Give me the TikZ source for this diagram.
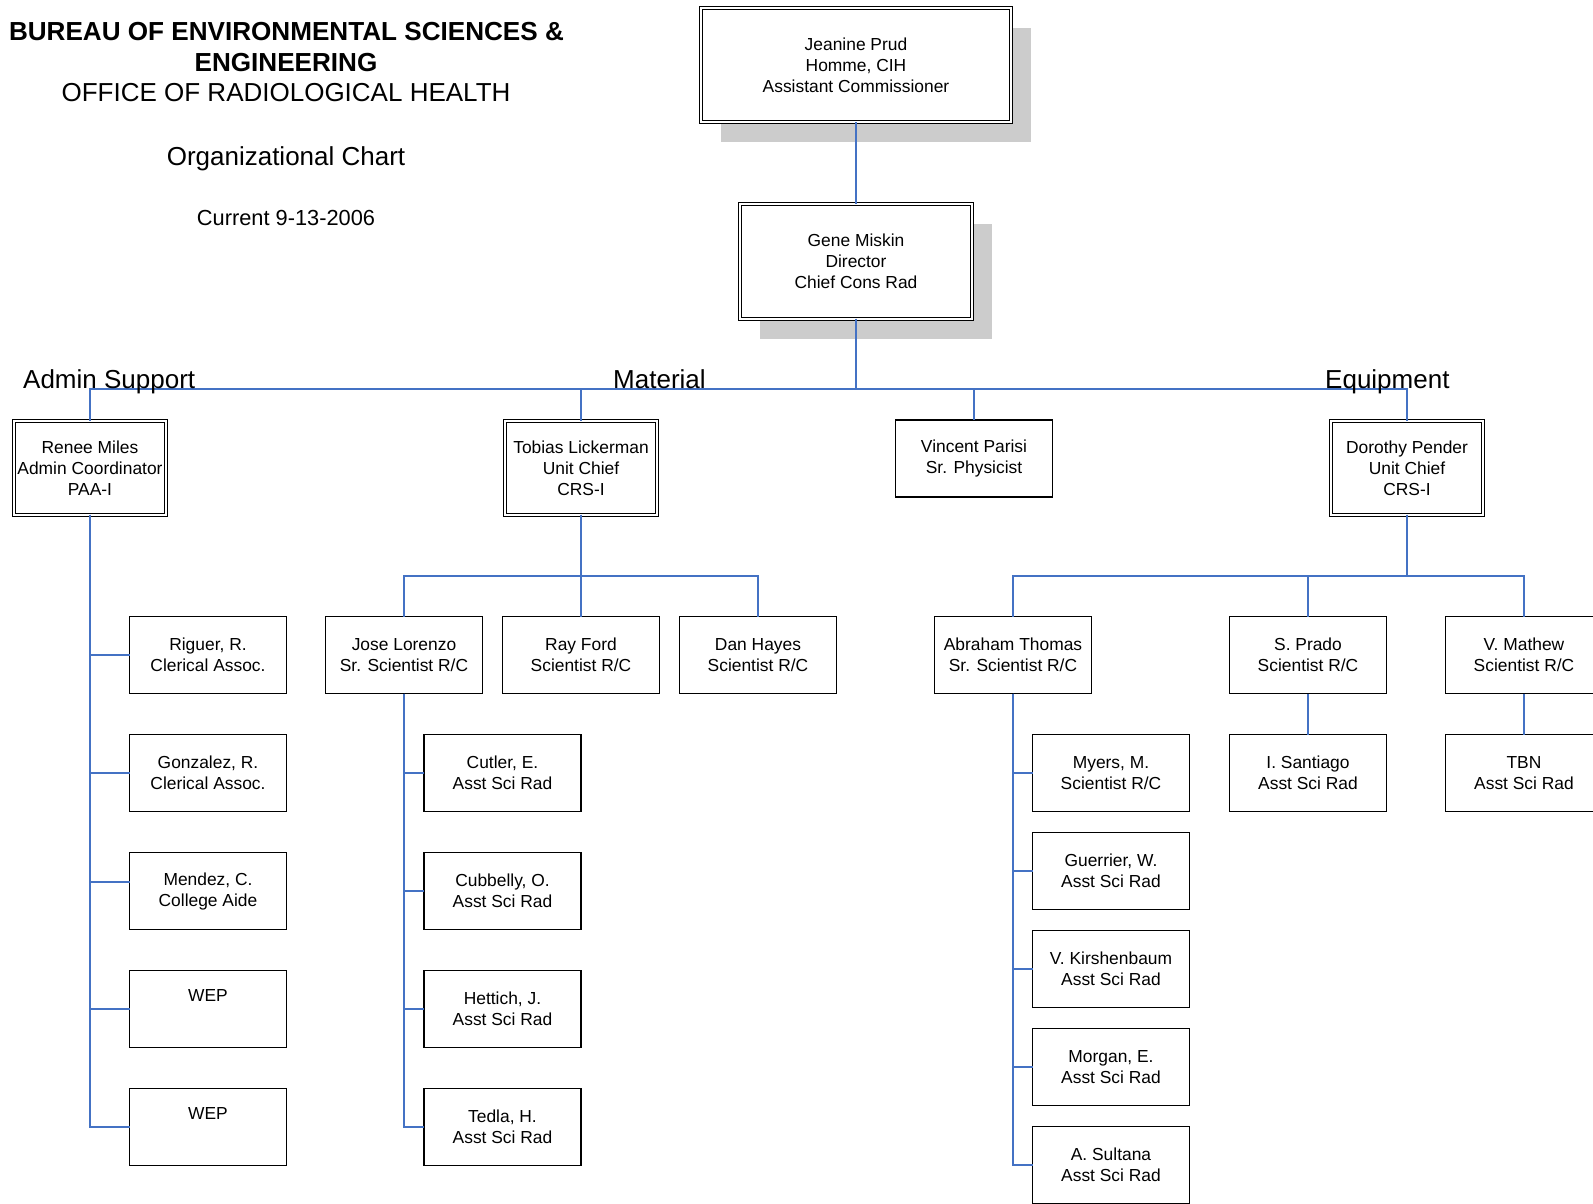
\documentclass[tikz,border=0pt]{standalone}
\usepackage{fontspec}
\setmainfont{Liberation Sans}
\usepackage{xcolor}
\definecolor{linkblue}{RGB}{68,114,196}
\definecolor{shadowgray}{RGB}{204,204,204}
\usetikzlibrary{positioning,shadows}
\newcommand\boxfont{\fontsize{17.4}{21}\selectfont}
\tikzset{
  box/.style={draw,fill=white,line width=1.2pt,minimum width=157pt,%
    minimum height=77pt,inner sep=0pt,outer sep=0pt,align=center,font=\boxfont},
  chief/.style={box,double,double distance=2pt,line width=1.1pt,%
    minimum width=152.6pt,minimum height=93.6pt},
  shade/.style={drop shadow={shadow xshift=20pt,shadow yshift=-20pt,%
    fill=shadowgray,opacity=1}},
  link/.style={draw=linkblue,line width=1.8pt},
  heading/.style={anchor=base,inner sep=0pt,font=\fontsize{26}{31}\selectfont},
  section/.style={anchor=base west,inner sep=0pt,font=\fontsize{26}{31}\selectfont},
}

\begin{document}
\begin{tikzpicture}[x=1pt,y=-1pt,node distance=41pt]
\useasboundingbox (0,0) rectangle (1593,1203);

% title block
\node[heading,font=\fontsize{26.1}{31}\selectfont\bfseries] (bureau) at (286.5,40)
  {BUREAU OF ENVIRONMENTAL SCIENCES \&};
\node[heading,font=\fontsize{26.1}{31}\selectfont\bfseries] (engin) at (286,71.5)
  {ENGINEERING};
\node[heading] (office) at (286,101.5) {OFFICE OF RADIOLOGICAL HEALTH};
\node[heading] (chart) at (286,165.5) {Organizational Chart};
\node[heading,font=\fontsize{21.8}{26}\selectfont] (date) at (286,225) {Current 9-13-2006};

% top
\node[chief,shade,minimum width=310.6pt,minimum height=113.6pt] (prud) at (856,65)
  {Jeanine Prud\\Homme, CIH\\Assistant Commissioner};
\node[chief,shade,minimum width=231.6pt,minimum height=114.6pt] (miskin) at (856,261.5)
  {Gene Miskin\\Director\\Chief Cons Rad};

% units
\node[chief] (miles) at (90,468) {Renee Miles\\Admin Coordinator\\PAA-I};
\node[chief] (lickerman) at (581,468) {Tobias Lickerman\\Unit Chief\\CRS-I};
\node[box] (parisi) at (974,458.5) {Vincent Parisi\\Sr. Physicist};
\node[chief] (pender) at (1407,468) {Dorothy Pender\\Unit Chief\\CRS-I};

% admin support
\node[box] (riguer) at (208,655) {Riguer, R.\\Clerical Assoc.};
\node[box,below=of riguer] (gonzalez) {Gonzalez, R.\\Clerical Assoc.};
\node[box,below=of gonzalez] (mendez) {Mendez, C.\\College Aide};
\node[box,below=of mendez] (wepa) {WEP\\\strut};
\node[box,below=of wepa] (wepb) {WEP\\\strut};

% material
\node[box] (lorenzo) at (404,655) {Jose Lorenzo\\Sr. Scientist R/C};
\node[box] (ford) at (581,655) {Ray Ford\\Scientist R/C};
\node[box] (hayes) at (758,655) {Dan Hayes\\Scientist R/C};
\node[box,below=of lorenzo,xshift=98.5pt] (cutler) {Cutler, E.\\Asst Sci Rad};
\node[box,below=of cutler] (cubbelly) {Cubbelly, O.\\Asst Sci Rad};
\node[box,below=of cubbelly] (hettich) {Hettich, J.\\Asst Sci Rad};
\node[box,below=of hettich] (tedla) {Tedla, H.\\Asst Sci Rad};

% equipment
\node[box] (thomas) at (1013,655) {Abraham Thomas\\Sr. Scientist R/C};
\node[box] (prado) at (1308,655) {S. Prado\\Scientist R/C};
\node[box] (mathew) at (1524,655) {V. Mathew\\Scientist R/C};
\node[box,below=of thomas,xshift=98pt] (myers) {Myers, M.\\Scientist R/C};
\node[box,below=21pt of myers] (guerrier) {Guerrier, W.\\Asst Sci Rad};
\node[box,below=21pt of guerrier] (kirsh) {V. Kirshenbaum\\Asst Sci Rad};
\node[box,below=21pt of kirsh] (morgan) {Morgan, E.\\Asst Sci Rad};
\node[box,below=21pt of morgan] (sultana) {A. Sultana\\Asst Sci Rad};
\node[box,below=of prado] (santiago) {I. Santiago\\Asst Sci Rad};
\node[box,below=of mathew] (tbn) {TBN\\Asst Sci Rad};

% connectors
\coordinate (bus) at (0,389);
\coordinate (subbus) at (0,576);
\draw[link] (prud) -- (miskin);
\foreach \n in {miles,lickerman,parisi,pender}
  \draw[link] (miskin.south) -- (miskin.south |- bus) -| (\n.north);
\foreach \n in {lorenzo,ford,hayes}
  \draw[link] (lickerman.south) -- (lickerman.south |- subbus) -| (\n.north);
\foreach \n in {thomas,prado,mathew}
  \draw[link] (pender.south) -- (pender.south |- subbus) -| (\n.north);
\foreach \n in {riguer,gonzalez,wepa,wepb}
  \draw[link] (miles.south) |- (\n.west);
\draw[link] (miles.south) |- ([yshift=9pt]mendez.west);
\foreach \n in {cutler,cubbelly,hettich,tedla}
  \draw[link] (lorenzo.south) |- (\n.west);
\foreach \n in {myers,guerrier,kirsh,morgan,sultana}
  \draw[link] (thomas.south) |- (\n.west);
\draw[link] (prado) -- (santiago);
\draw[link] (mathew) -- (tbn);

% section names
\node[section] (admin) at (23,388) {Admin Support};
\node[section] (material) at (613,388) {Material};
\node[section] (equip) at (1325,388) {Equipment};
\end{tikzpicture}
\end{document}
